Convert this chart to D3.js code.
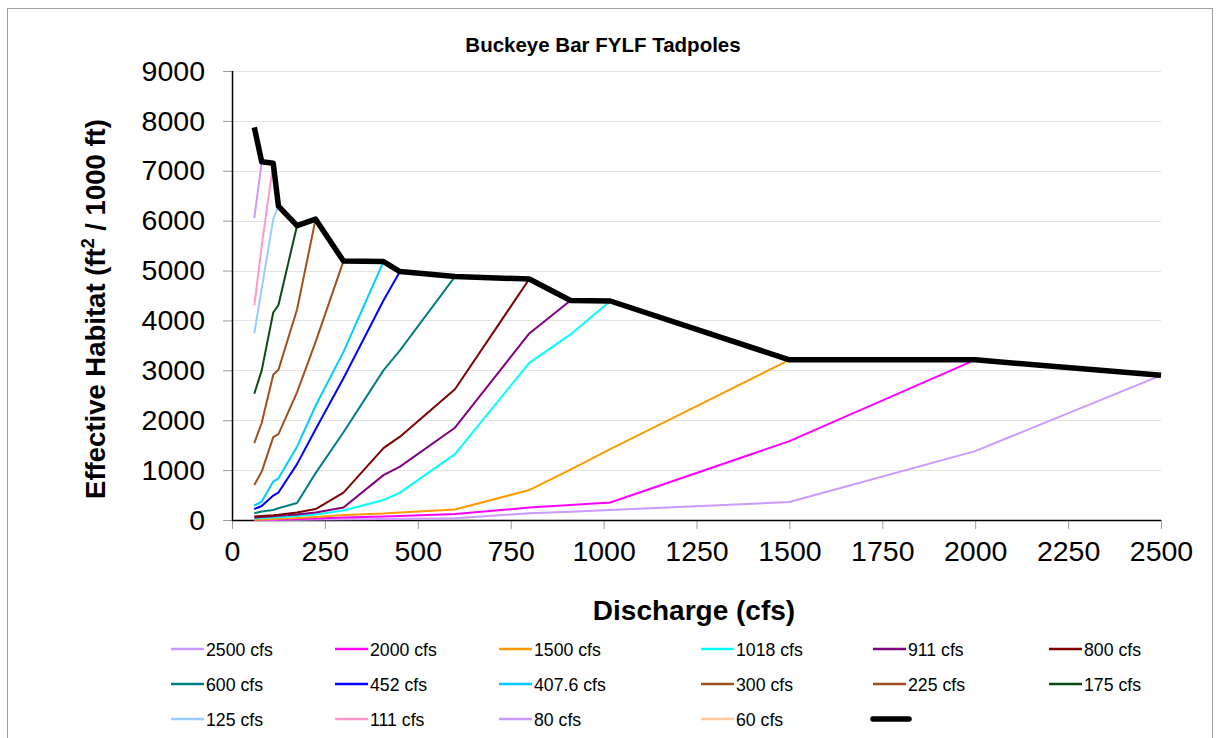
<!DOCTYPE html>
<html>
<head>
<meta charset="utf-8">
<script src="https://cdn.jsdelivr.net/npm/d3@7"></script>
<style>
  html, body { margin: 0; padding: 0; background: #fff; }
  svg { display: block; font-family: "Liberation Sans", Arial, sans-serif; }
</style>
</head>
<body>
<svg id="chart" width="1219" height="738"></svg>
<script>
// Discharge grid (cfs)
const flows = [60, 80, 111, 125, 175, 225, 300, 407.6, 452, 600, 800, 911, 1018, 1500, 2000, 2500];

// Series: effective habitat at each discharge (values listed from 60 cfs upward)
const seriesNames = ["2500 cfs", "2000 cfs", "1500 cfs", "1018 cfs", "911 cfs", "800 cfs", "600 cfs", "452 cfs", "407.6 cfs", "300 cfs", "225 cfs", "175 cfs", "125 cfs", "111 cfs", "80 cfs", "60 cfs"];
const s2500 = [0, 0, 2, 3, 5, 8, 15, 20, 25, 35, 135, 165, 200, 360, 1380, 2900];
const s2000 = [0, 5, 10, 12, 20, 30, 50, 70, 80, 120, 250, 300, 350, 1580, 3210];
const s1500 = [5, 10, 20, 25, 40, 60, 100, 130, 150, 210, 600, 1010, 1420, 3210];
const s1018 = [30, 40, 50, 55, 80, 110, 190, 400, 550, 1320, 3150, 3720, 4390];
const s911  = [50, 60, 75, 85, 110, 150, 250, 900, 1070, 1850, 3740, 4400];
const s800  = [70, 80, 95, 105, 150, 220, 550, 1440, 1670, 2620, 4830];
const s600  = [135, 170, 200, 235, 340, 940, 1760, 3000, 3400, 4880];
const s452  = [220, 280, 490, 550, 1120, 1820, 2840, 4400, 4980];
const s4076 = [290, 370, 770, 835, 1470, 2290, 3370, 5180];
const s300  = [700, 970, 1660, 1720, 2560, 3570, 5190];
const s225  = [1540, 1950, 2910, 3010, 4220, 6030];
const s175  = [2530, 3000, 4160, 4310, 5900];
const s125  = [3740, 4640, 6030, 6290];
const s111  = [4300, 5500, 7150];
const s80   = [6050, 7180];
const s60   = [7870];
const envelope = [7870, 7180, 7150, 6290, 5900, 6030, 5190, 5180, 4980, 4880, 4830, 4400, 4390, 3210, 3210, 2900];

const seriesValues = [s2500, s2000, s1500, s1018, s911, s800, s600, s452, s4076, s300, s225, s175, s125, s111, s80, s60];
const seriesColors = ["#CC99FF", "#FF00FF", "#FF9900", "#00FFFF", "#800080", "#800000", "#008080", "#0000FF", "#00CCFF", "#A0501E", "#A0501E", "#0B4A12", "#99CCFF", "#FF99CC", "#CC99FF", "#FFCC99"];

const xTicks = [0, 250, 500, 750, 1000, 1250, 1500, 1750, 2000, 2250, 2500];
const yTicks = [0, 1000, 2000, 3000, 4000, 5000, 6000, 7000, 8000, 9000];

const svg = d3.select("#chart");

// outer frame
svg.append("rect").attr("x", 7.5).attr("y", 8.5).attr("width", 1205).attr("height", 740)
  .attr("fill", "none").attr("stroke", "#a0a0a0").attr("stroke-width", 1);

const L = 232, R = 1161, T = 71, B = 520;
const x = d3.scaleLinear().domain([0, 2500]).range([L, R]);
const y = d3.scaleLinear().domain([0, 9000]).range([B, T]);

// gridlines
svg.append("g").selectAll("line").data(yTicks.filter(d => d > 0)).join("line")
  .attr("x1", L).attr("x2", R)
  .attr("y1", d => Math.round(y(d)) + 0.5).attr("y2", d => Math.round(y(d)) + 0.5)
  .attr("stroke", "#e3e3e3").attr("stroke-width", 1);

// y axis
const yAxis = svg.append("g").attr("transform", `translate(${L},0)`)
  .call(d3.axisLeft(y).tickValues(yTicks).tickSize(9).tickPadding(18).tickFormat(d3.format("d")));
yAxis.select(".domain").remove();
yAxis.selectAll(".tick line").attr("stroke", "#999");
yAxis.selectAll("text").attr("font-size", 28.5).attr("fill", "#000")
  .attr("font-family", "Liberation Sans, Arial, sans-serif");

// x axis
const xAxis = svg.append("g").attr("transform", `translate(0,${B})`)
  .call(d3.axisBottom(x).tickValues(xTicks).tickSize(9).tickPadding(12).tickFormat(d3.format("d")));
xAxis.select(".domain").remove();
xAxis.selectAll(".tick line").attr("stroke", "#999");
xAxis.selectAll("text").attr("font-size", 28.5).attr("fill", "#000")
  .attr("font-family", "Liberation Sans, Arial, sans-serif");

// axis lines
svg.append("line").attr("x1", L + 0.5).attr("x2", L + 0.5).attr("y1", T).attr("y2", B + 1)
  .attr("stroke", "#000").attr("stroke-width", 1.5);
svg.append("line").attr("x1", L).attr("x2", R).attr("y1", B + 0.5).attr("y2", B + 0.5)
  .attr("stroke", "#000").attr("stroke-width", 1.5);

const line = d3.line().x(d => x(d[0])).y(d => y(d[1]));

// series lines
const plotG = svg.append("g");
seriesValues.forEach((vals, i) => {
  const pts = vals.map((v, j) => [flows[j], v]);
  plotG.append("path").datum(pts).attr("d", line)
    .attr("fill", "none").attr("stroke", seriesColors[i]).attr("stroke-width", 2)
    .attr("stroke-linejoin", "round");
});
// envelope
plotG.append("path").datum(envelope.map((v, j) => [flows[j], v])).attr("d", line)
  .attr("fill", "none").attr("stroke", "#000").attr("stroke-width", 5.5)
  .attr("stroke-linejoin", "round");

// title
svg.append("text").attr("x", 603).attr("y", 52).attr("text-anchor", "middle")
  .attr("font-size", 20.5).attr("font-weight", "bold").text("Buckeye Bar FYLF Tadpoles");

// x title
svg.append("text").attr("x", 694).attr("y", 620).attr("text-anchor", "middle")
  .attr("font-size", 28).attr("font-weight", "bold").text("Discharge (cfs)");

// y title
const yt = svg.append("text").attr("transform", "translate(105,309) rotate(-90)")
  .attr("text-anchor", "middle").attr("font-size", 27.5).attr("font-weight", "bold");
yt.append("tspan").text("Effective Habitat (ft");
yt.append("tspan").attr("font-size", 18).attr("dy", -11).text("2");
yt.append("tspan").attr("dy", 11).text(" / 1000 ft)");

// legend
const colX = [171, 335, 499, 701, 873, 1049];
const rowY = [649, 684, 719];
const legendItems = seriesNames.map((n, i) => ({ name: n, color: seriesColors[i], w: 2.5 }));
legendItems.push({ name: "", color: "#000", w: 5.5 });
const lg = svg.append("g");
legendItems.forEach((it, i) => {
  const cx = colX[i % 6], cy = rowY[Math.floor(i / 6)];
  const isEnv = it.name === "";
  lg.append("line").attr("x1", cx).attr("x2", isEnv ? cx + 36 : cx + 33).attr("y1", cy).attr("y2", cy)
    .attr("stroke", it.color).attr("stroke-width", it.w).attr("stroke-linecap", isEnv ? "round" : "butt");
  if (!isEnv) {
    lg.append("text").attr("x", cx + 35).attr("y", cy + 6.5).attr("font-size", 17.7).text(it.name);
  }
});
</script>
</body>
</html>
